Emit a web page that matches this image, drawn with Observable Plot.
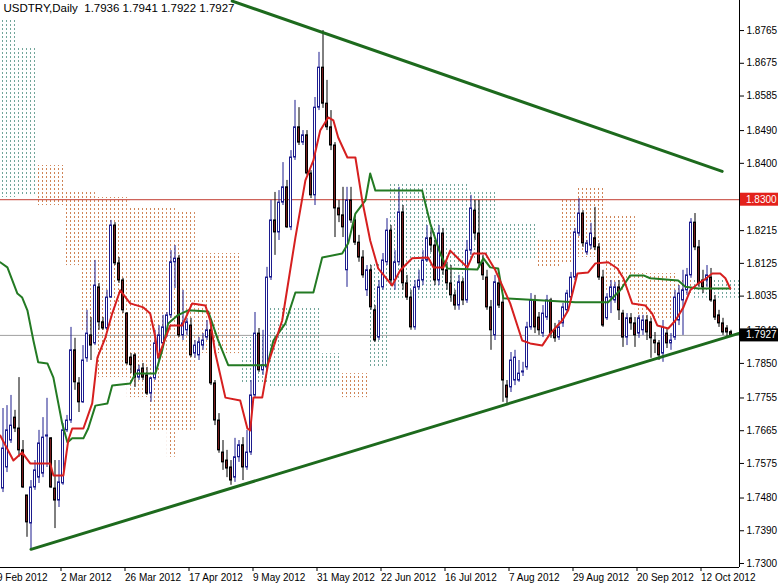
<!DOCTYPE html>
<html><head><meta charset="utf-8">
<script src="https://cdn.jsdelivr.net/npm/d3@7"></script>
<script src="https://cdn.jsdelivr.net/npm/@observablehq/plot@0.6"></script>
<style>html,body{margin:0;padding:0;background:#fff;} svg{display:block}</style>
</head><body><div id="chart"></div>
<script>
// ---------- data ----------
const symbolLabel = "USDTRY,Daily";
const lastBar = [1.7936, 1.7941, 1.7922, 1.7927]; // O H L C of current bar
const firstBarIndex = 2; // bar index 0 = 9 Feb 2012

const opens = [1.7506,1.7564,1.7638,1.7701,1.7671,1.7611,1.7487,1.7410,1.7509,1.7536,1.7547,1.7649,1.7644,1.7506,1.7473,1.7520,1.7666,1.7693,1.7886,1.7795,1.7743,1.7864,1.7927,1.7905,1.8059,1.7963,1.7946,1.8031,1.8229,1.8125,1.8078,1.7987,1.7866,1.7872,1.7811,1.7836,1.7817,1.7767,1.7809,1.7864,1.7905,1.7932,1.7982,1.8128,1.8138,1.7927,1.7941,1.7954,1.7877,1.7872,1.7899,1.7921,1.7941,1.7795,1.7693,1.7605,1.7583,1.7564,1.7536,1.7592,1.7625,1.7564,1.7605,1.7762,1.7932,1.7831,1.7839,1.8086,1.8243,1.8210,1.8292,1.8334,1.8224,1.8416,1.8499,1.8457,1.8477,1.8372,1.8312,1.8553,1.8663,1.8564,1.8499,1.8449,1.8276,1.8257,1.8106,1.8298,1.8243,1.8182,1.8141,1.8051,1.8106,1.7996,1.7921,1.8059,1.8128,1.8215,1.8078,1.8128,1.8265,1.8070,1.8031,1.7949,1.8059,1.8078,1.8133,1.8194,1.8174,1.8078,1.8207,1.8106,1.8070,1.8037,1.8009,1.8073,1.8023,1.8160,1.8270,1.8207,1.8125,1.8086,1.8004,1.7927,1.8070,1.8017,1.7789,1.7784,1.7803,1.7803,1.7825,1.7839,1.7949,1.8023,1.7976,1.7932,1.7976,1.8023,1.7941,1.7921,1.7960,1.7996,1.8031,1.8086,1.8207,1.8262,1.8155,1.8174,1.8194,1.8169,1.8086,1.7974,1.8031,1.8023,1.8059,1.7987,1.7921,1.7974,1.7960,1.7932,1.7941,1.7968,1.7963,1.7913,1.7905,1.7877,1.7932,1.7905,1.7921,1.7968,1.8023,1.8051,1.8092,1.8237,1.8169,1.8078,1.8078,1.8086,1.8023,1.7982,1.7960,1.7946,1.7936];
const highs = [1.7726,1.7734,1.7762,1.7721,1.7811,1.7638,1.7487,1.7528,1.7583,1.7666,1.7701,1.7754,1.7646,1.7583,1.7583,1.7685,1.7707,1.7949,1.7919,1.7811,1.7899,1.7996,1.7976,1.8133,1.8070,1.7976,1.8051,1.8243,1.8237,1.8141,1.8084,1.7990,1.7877,1.7877,1.7845,1.7850,1.7839,1.7811,1.7941,1.7954,1.7982,1.7990,1.8160,1.8174,1.8147,1.8051,1.7974,1.7974,1.7913,1.7921,1.7932,1.7968,1.7968,1.7803,1.7712,1.7638,1.7611,1.7583,1.7644,1.7638,1.7646,1.7666,1.7803,1.7990,1.7946,1.7941,1.8114,1.8298,1.8320,1.8325,1.8402,1.8353,1.8435,1.8573,1.8553,1.8490,1.8490,1.8380,1.8581,1.8705,1.8765,1.8628,1.8545,1.8457,1.8298,1.8334,1.8334,1.8334,1.8257,1.8202,1.8160,1.8119,1.8119,1.8009,1.8078,1.8152,1.8248,1.8229,1.8160,1.8334,1.8284,1.8092,1.8051,1.8078,1.8106,1.8160,1.8229,1.8215,1.8188,1.8229,1.8221,1.8128,1.8119,1.8051,1.8092,1.8084,1.8188,1.8312,1.8298,1.8298,1.8147,1.8106,1.8023,1.8092,1.8084,1.8037,1.7803,1.7880,1.7886,1.7858,1.7853,1.7963,1.8042,1.8037,1.7990,1.8009,1.8037,1.8029,1.7960,1.7968,1.8015,1.8051,1.8100,1.8221,1.8303,1.8270,1.8188,1.8235,1.8279,1.8180,1.8106,1.8042,1.8078,1.8073,1.8078,1.7996,1.7987,1.7987,1.7976,1.7982,1.7982,1.7982,1.7974,1.7935,1.7913,1.7968,1.7946,1.7932,1.8051,1.8064,1.8106,1.8111,1.8248,1.8262,1.8188,1.8106,1.8119,1.8111,1.8037,1.7996,1.7974,1.7954,1.7941];
const lows = [1.7495,1.7550,1.7630,1.7660,1.7592,1.7506,1.7372,1.7336,1.7501,1.7520,1.7536,1.7564,1.7506,1.7396,1.7454,1.7515,1.7660,1.7685,1.7776,1.7715,1.7740,1.7853,1.7858,1.7899,1.7941,1.7941,1.7941,1.8029,1.8119,1.8070,1.7987,1.7845,1.7822,1.7784,1.7803,1.7803,1.7762,1.7743,1.7803,1.7858,1.7899,1.7921,1.7974,1.8056,1.7921,1.7913,1.7927,1.7866,1.7864,1.7858,1.7886,1.7913,1.7789,1.7679,1.7603,1.7556,1.7536,1.7515,1.7523,1.7578,1.7528,1.7556,1.7597,1.7754,1.7825,1.7817,1.7831,1.8078,1.8147,1.8188,1.8284,1.8221,1.8215,1.8408,1.8449,1.8449,1.8367,1.8303,1.8284,1.8545,1.8551,1.8490,1.8435,1.8196,1.8237,1.8196,1.8059,1.8235,1.8174,1.8128,1.8084,1.8034,1.7996,1.7908,1.7913,1.8051,1.8119,1.8064,1.8051,1.8119,1.8051,1.8023,1.7941,1.7941,1.8051,1.8064,1.8128,1.8155,1.8064,1.8064,1.8092,1.8051,1.8018,1.7996,1.7996,1.8009,1.8015,1.8147,1.8188,1.8111,1.8078,1.7996,1.7886,1.7913,1.8001,1.7743,1.7740,1.7770,1.7789,1.7798,1.7814,1.7831,1.7941,1.7932,1.7927,1.7921,1.7968,1.7919,1.7908,1.7913,1.7949,1.7987,1.8023,1.8078,1.8199,1.8169,1.8147,1.8163,1.8160,1.8078,1.7949,1.7968,1.7987,1.8015,1.7968,1.7894,1.7899,1.7941,1.7894,1.7919,1.7927,1.7913,1.7864,1.7877,1.7858,1.7853,1.7891,1.7886,1.7913,1.7954,1.7927,1.8037,1.8084,1.8160,1.8059,1.8042,1.8059,1.8018,1.7968,1.7949,1.7927,1.7921,1.7922];
const closes = [1.7616,1.7666,1.7679,1.7671,1.7611,1.7509,1.7413,1.7509,1.7556,1.7630,1.7646,1.7652,1.7509,1.7473,1.7523,1.7666,1.7693,1.7886,1.7798,1.7743,1.7858,1.7932,1.7899,1.8064,1.7963,1.7946,1.8031,1.8229,1.8125,1.8078,1.7996,1.7850,1.7845,1.7811,1.7831,1.7811,1.7767,1.7809,1.7905,1.7927,1.7949,1.7982,1.8128,1.8138,1.7927,1.7960,1.7963,1.7872,1.7899,1.7908,1.7913,1.7941,1.7795,1.7693,1.7611,1.7578,1.7561,1.7528,1.7592,1.7625,1.7564,1.7605,1.7762,1.7932,1.7831,1.7845,1.8086,1.8243,1.8210,1.8292,1.8334,1.8224,1.8416,1.8499,1.8457,1.8477,1.8372,1.8312,1.8553,1.8663,1.8564,1.8499,1.8449,1.8276,1.8257,1.8224,1.8298,1.8243,1.8182,1.8141,1.8092,1.8106,1.8004,1.7913,1.8059,1.8133,1.8215,1.8078,1.8128,1.8265,1.8070,1.8031,1.7949,1.8059,1.8078,1.8133,1.8194,1.8174,1.8078,1.8207,1.8106,1.8070,1.8037,1.8009,1.8073,1.8023,1.8160,1.8276,1.8207,1.8125,1.8092,1.8004,1.7941,1.8073,1.8009,1.7803,1.7756,1.7858,1.7866,1.7822,1.7828,1.7949,1.8023,1.7949,1.7941,1.7987,1.8023,1.7932,1.7919,1.7949,1.8004,1.8042,1.8086,1.8210,1.8262,1.8180,1.8180,1.8207,1.8169,1.8086,1.7954,1.8031,1.8059,1.8059,1.7996,1.7921,1.7974,1.7960,1.7927,1.7974,1.7968,1.7935,1.7919,1.7905,1.7872,1.7949,1.7905,1.7913,1.8031,1.8042,1.8051,1.8092,1.8237,1.8169,1.8070,1.8059,1.8092,1.8023,1.7976,1.7960,1.7935,1.7935,1.7927];

// Tenkan-sen (red) vertices: bar index, price
const tenkanIdx = [1.3,4.6,6.8,8.8,13.8,14.6,17.1,18.3,19.3,22.1,24.3,25.6,27.6,29.3,31.3,33.8,37.1,38.8,40.1,40.8,42.1,43.8,46.8,49.3,52.6,53.8,55.1,57.6,61.3,63.1,63.8,64.6,66.8,68.3,71.8,75.1,77.6,79.6,81.3,83.3,84.6,85.8,88.1,90.1,91.8,93.8,95.8,99.3,101.3,104.3,108.3,109.6,112.1,113.8,116.3,118.1,119.6,122.6,125.1,128.8,131.8,133.8,136.8,138.8,141.8,143.3,145.6,148.3,150.1,153.3,155.6,157.1,159.3,162.6,164.3,165.6,168.3,170.1,172.1,173.8,175.8,177.1,179.3,181.3,182.6,183.8];
const tenkanVal = [1.7652,1.7583,1.7605,1.7575,1.7575,1.7542,1.7542,1.7638,1.7671,1.7671,1.7740,1.7866,1.7921,1.7987,1.8051,1.8015,1.8004,1.7987,1.7921,1.7866,1.7905,1.7954,1.7954,1.8015,1.8009,1.7968,1.7877,1.7756,1.7748,1.7671,1.7666,1.7756,1.7756,1.7850,1.7968,1.8196,1.8353,1.8408,1.8490,1.8526,1.8518,1.8471,1.8416,1.8416,1.8298,1.8188,1.8111,1.8064,1.8106,1.8139,1.8141,1.8114,1.8114,1.8160,1.8133,1.8114,1.8152,1.8152,1.8106,1.8015,1.7913,1.7905,1.7899,1.7932,1.7968,1.7996,1.8097,1.8100,1.8125,1.8128,1.8111,1.8084,1.8015,1.8009,1.7987,1.7954,1.7946,1.7968,1.8004,1.8051,1.8070,1.8078,1.8097,1.8097,1.8084,1.8056];
// Kijun-sen (green) vertices
const kijunIdx = [1.3,3.1,5.6,6.8,8.1,9.6,10.8,13.1,14.6,16.8,18.1,19.3,22.1,23.3,25.1,28.1,29.3,33.8,35.1,40.1,41.8,43.3,45.6,48.3,53.3,55.8,58.3,68.1,69.6,72.6,75.1,79.6,81.8,86.8,88.3,90.1,92.6,93.8,95.1,106.8,108.8,111.3,113.1,120.6,122.1,123.8,125.8,127.1,145.1,153.3,156.3,158.8,162.1,163.8,170.8,172.6,175.8,183.8];
const kijunVal = [1.8128,1.8114,1.8042,1.8031,1.7996,1.7913,1.7853,1.7850,1.7811,1.7685,1.7633,1.7644,1.7644,1.7671,1.7734,1.7740,1.7789,1.7795,1.7822,1.7822,1.7886,1.7960,1.7982,1.7996,1.7993,1.7913,1.7845,1.7845,1.7913,1.7960,1.8045,1.8045,1.8141,1.8152,1.8180,1.8262,1.8298,1.8372,1.8325,1.8325,1.8235,1.8152,1.8111,1.8108,1.8139,1.8114,1.8111,1.8029,1.8018,1.8018,1.8051,1.8092,1.8092,1.8084,1.8078,1.8061,1.8056,1.8056];

// Kumo (cloud) blocks between the senkou spans
const cloudFrom = [1.3,5.8,10.8,17.6,21.3,25.1,33.1,38.8,43.1,45.1,50.1,61.3,68.3,81.8,86.3,93.8,98.8,118.8,125.6,135.6,141.3,145.8,152.6,160.1,170.8,174.3];
const cloudTo   = [5.8,10.8,17.6,21.3,25.1,33.1,38.8,43.1,45.1,50.1,61.3,68.3,81.8,86.3,93.8,98.8,118.8,125.6,135.6,141.3,145.8,152.6,160.1,170.8,174.3,186.1];
const cloudTop  = [1.8793,1.8716,1.8394,1.8325,1.8325,1.8306,1.8276,1.8276,1.8276,1.8270,1.8152,1.7921,1.8004,1.7877,1.7822,1.8125,1.8345,1.8325,1.8235,1.8188,1.8298,1.8334,1.8257,1.8097,1.8078,1.8078];
const cloudBottom = [1.8306,1.8312,1.8284,1.8119,1.7941,1.7811,1.7756,1.7666,1.7592,1.7666,1.7877,1.7795,1.7784,1.7784,1.7756,1.7839,1.8023,1.8133,1.8133,1.8114,1.8125,1.8141,1.8051,1.7968,1.8042,1.8029];
const cloudKind = ["up","up","down","down","down","down","down","down","down","down","down","up","up","up","down","up","up","up","up","down","down","down","down","down","down","up"];

// Trend lines (bar index, price)
const upperTrendIdx = [59.3, 181.8];
const upperTrendVal = [1.8846, 1.8378];
const lowerTrendIdx = [9, 185.8];
const lowerTrendVal = [1.7339, 1.7932];

const resistanceLevel = 1.8300;
const lastPrice = 1.7927;

const priceTicks = [1.8765,1.8675,1.8585,1.8490,1.8400,1.8215,1.8125,1.8035,1.7940,1.7850,1.7755,1.7665,1.7575,1.7480,1.7390,1.7300];
const dateTickIndex = [0,16,32,48,64,80,96,112,128,144,160,176];
const dateTickLabels = ["9 Feb 2012","2 Mar 2012","26 Mar 2012","17 Apr 2012","9 May 2012","31 May 2012","22 Jun 2012","16 Jul 2012","7 Aug 2012","29 Aug 2012","20 Sep 2012","12 Oct 2012"];

// ---------- build ----------
const candles = opens.map((o, k) => ({i: firstBarIndex + k, o, h: highs[k], l: lows[k], c: closes[k]}));
const bull = candles.filter(d => d.c >= d.o);
const bear = candles.filter(d => d.c < d.o);
const tenkan = tenkanIdx.map((i, k) => ({i, v: tenkanVal[k]}));
const kijun = kijunIdx.map((i, k) => ({i, v: kijunVal[k]}));
const cloud = cloudFrom.map((f, k) => ({from: f, to: cloudTo[k], top: cloudTop[k], bottom: cloudBottom[k], kind: cloudKind[k]}));
const trends = [
  ...upperTrendIdx.map((i, k) => ({line: "upper", i, v: upperTrendVal[k]})),
  ...lowerTrendIdx.map((i, k) => ({line: "lower", i, v: lowerTrendVal[k]}))
];
const titleText = `${symbolLabel}  ${lastBar.map(v => v.toFixed(4)).join(" ")}`;
const priceTags = [
  {level: resistanceLevel, bg: "#e3211b"},
  {level: lastPrice, bg: "#000000"}
];

const xDomain = [1.375, 186.125];
const yDomain = [1.7289, 1.88476];
const half = 0.25; // half body width in bar units

const bullColor = "#1c1c8e", bearFill = "#761c1c", bearWick = "#000000";
const FONT = "'Liberation Sans', Arial, sans-serif";

const chart = Plot.plot({
  width: 778, height: 583,
  marginLeft: 0, marginRight: 39, marginTop: 0, marginBottom: 16,
  style: {fontFamily: FONT, fontSize: "10px", background: "#fff", color: "#000", overflow: "visible"},
  x: {domain: xDomain},
  y: {domain: yDomain},
  marks: [
    Plot.rect(cloud.filter(d => d.kind === "down"), {x1: "from", x2: "to", y1: "bottom", y2: "top", fill: "url(#kumoDown)"}),
    Plot.rect(cloud.filter(d => d.kind === "up"), {x1: "from", x2: "to", y1: "bottom", y2: "top", fill: "url(#kumoUp)"}),
    Plot.ruleY([resistanceLevel], {stroke: "#c23b30", strokeWidth: 1}),
    Plot.ruleY([lastPrice], {stroke: "#a0a0a0", strokeWidth: 1}),
    Plot.ruleX(bull, {x: "i", y1: "l", y2: "h", stroke: bullColor, strokeWidth: 1}),
    Plot.ruleX(bear, {x: "i", y1: "l", y2: "h", stroke: bearWick, strokeWidth: 1}),
    Plot.rect(bull, {x1: d => d.i - half, x2: d => d.i + half, y1: "o", y2: "c", fill: "#ffffff", stroke: bullColor, strokeWidth: 1}),
    Plot.rect(bear, {x1: d => d.i - half, x2: d => d.i + half, y1: "o", y2: "c", fill: bearFill, stroke: bearWick, strokeWidth: 1}),
    Plot.line(kijun, {x: "i", y: "v", stroke: "#237a23", strokeWidth: 2}),
    Plot.line(tenkan, {x: "i", y: "v", stroke: "#d61f1f", strokeWidth: 2}),
    Plot.line(trends, {x: "i", y: "v", z: "line", stroke: "#1d6a1d", strokeWidth: 3}),
    Plot.ruleX([xDomain[1]], {stroke: "#000", strokeWidth: 1}),
    Plot.ruleY([yDomain[0]], {stroke: "#000", strokeWidth: 1}),
    Plot.axisY({anchor: "right", ticks: priceTicks, tickFormat: d => d.toFixed(4), tickSize: 4, tickPadding: 3, label: null, fontSize: 10}),
    Plot.axisX({ticks: dateTickIndex, tickFormat: d => dateTickLabels[dateTickIndex.indexOf(d)], tickSize: 4, tickPadding: 2, textAnchor: "start", dx: 2, label: null, fontSize: 10}),
    Plot.text([titleText], {text: d => d, frameAnchor: "top-left", dx: 3, dy: 3, textAnchor: "start", lineAnchor: "top", fontSize: 11.5, fill: "#000"})
  ]
});

document.getElementById("chart").appendChild(chart);
const svg = d3.select(chart);

// hatch patterns for the kumo
const defs = svg.insert("defs", ":first-child");
function hatch(id, color) {
  const p = defs.append("pattern").attr("id", id).attr("patternUnits", "userSpaceOnUse")
    .attr("width", 4).attr("height", 4);
  p.append("rect").attr("x", 2).attr("y", 0).attr("width", 1).attr("height", 2).attr("fill", color);
}
hatch("kumoDown", "#cf8456");
hatch("kumoUp", "#72a69b");

// price tags on the right axis, positioned with the chart's own scales
const xs = chart.scale("x"), ys = chart.scale("y");
const axisX = xs.apply(xDomain[1]);
const tagLayer = svg.append("g").attr("font-family", FONT).attr("font-size", 10).attr("text-anchor", "start");
priceTags.forEach(t => {
  const py = ys.apply(t.level);
  const g = tagLayer.append("g");
  const rect = g.append("rect").attr("fill", t.bg);
  const txt = g.append("text").attr("x", axisX + 7).attr("y", py).attr("dy", "0.35em")
    .attr("text-anchor", "start").attr("fill", "#fff").text(t.level.toFixed(4));
  const b = txt.node().getBBox();
  rect.attr("x", axisX + 1).attr("y", b.y - 1).attr("width", b.x + b.width + 3 - axisX).attr("height", b.height + 2);
});
</script>
</body></html>
